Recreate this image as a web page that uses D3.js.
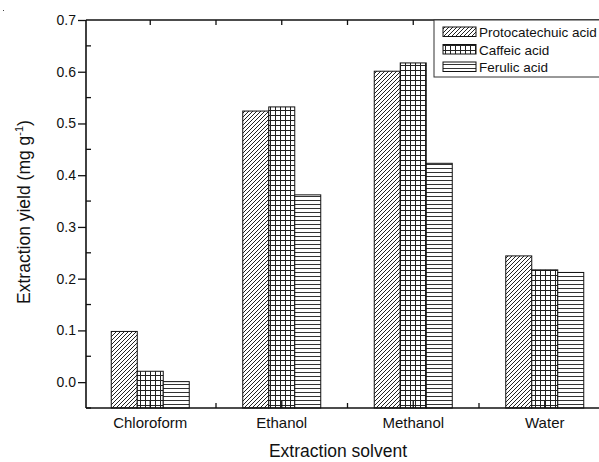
<!DOCTYPE html>
<html>
<head>
<meta charset="utf-8">
<script src="https://cdn.jsdelivr.net/npm/d3@7"></script>
<style>
  body { margin: 0; background: #fff; }
  text { font-family: "Liberation Sans", Arial, sans-serif; fill: #111; }
</style>
</head>
<body>
<svg width="599" height="462"></svg>
<script>
// data
const solvents = ["Chloroform", "Ethanol", "Methanol", "Water"];
const seriesNames = ["Protocatechuic acid", "Caffeic acid", "Ferulic acid"];
const protocatechuic = [0.098, 0.524, 0.601, 0.244];
const caffeic = [0.021, 0.532, 0.617, 0.217];
const ferulic = [0.001, 0.362, 0.423, 0.212];
const yTicks = [0.0, 0.1, 0.2, 0.3, 0.4, 0.5, 0.6, 0.7];
const yMinor = [-0.05, 0.05, 0.15, 0.25, 0.35, 0.45, 0.55, 0.65];

const seriesValues = [protocatechuic, caffeic, ferulic];
const patternIds = ["hatch", "grid", "hlines"];

let svg = d3.select("svg");
const plotLeft = 86, plotTop = 20, plotBottom = 408;

// patterns
const defs = svg.append("defs");
let p = defs.append("pattern").attr("id", "hatch").attr("patternUnits", "userSpaceOnUse")
  .attr("width", 4).attr("height", 4);
p.append("rect").attr("width", 4).attr("height", 4).attr("fill", "#fff");
p.append("path").attr("d", "M-1,1 l2,-2 M0,4 l4,-4 M3,5 l2,-2").attr("stroke", "#222").attr("stroke-width", 1);

p = defs.append("pattern").attr("id", "grid").attr("patternUnits", "userSpaceOnUse")
  .attr("width", 5).attr("height", 5);
p.append("rect").attr("width", 5).attr("height", 5).attr("fill", "#fff");
p.append("path").attr("d", "M0.5,0 V5 M0,0.5 H5").attr("stroke", "#222").attr("stroke-width", 1);

p = defs.append("pattern").attr("id", "hlines").attr("patternUnits", "userSpaceOnUse")
  .attr("width", 4).attr("height", 4);
p.append("rect").attr("width", 4).attr("height", 4).attr("fill", "#fff");
p.append("path").attr("d", "M0,0.5 H4").attr("stroke", "#333").attr("stroke-width", 1);

// scales
const x0 = d3.scaleBand().domain(solvents).range([84.5, 610.5]).padding(0);
const groupW = 78;
const x1 = d3.scaleBand().domain(seriesNames)
  .range([(x0.bandwidth() - groupW) / 2, (x0.bandwidth() + groupW) / 2]);
const y = d3.scaleLinear().domain([-0.05, 0.7]).range([plotBottom, plotTop]);

// bars (Origin draws them from the bottom of the axis)
const g = svg.append("g");
seriesNames.forEach((s, si) => {
  g.selectAll(".bar" + si)
    .data(solvents)
    .enter()
    .append("rect")
      .attr("x", d => x0(d) + x1(s))
      .attr("width", x1.bandwidth())
      .attr("y", (d, i) => y(seriesValues[si][i]))
      .attr("height", (d, i) => y(-0.05) - y(seriesValues[si][i]))
      .attr("fill", "url(#" + patternIds[si] + ")")
      .attr("stroke", "#111")
      .attr("stroke-width", 1);
});

// y axis
const yAxis = svg.append("g").attr("transform", `translate(${plotLeft},0)`)
  .call(d3.axisLeft(y).tickValues(yTicks).tickFormat(d3.format(".1f")).tickSize(8).tickPadding(2));
yAxis.select(".domain").remove();
yAxis.selectAll("line").attr("stroke", "#111").attr("stroke-width", 1.3);
yAxis.selectAll("text").style("font-size", "14px").style("font-family", "Liberation Sans, Arial, sans-serif");
svg.append("g").selectAll("line").data(yMinor).enter().append("line")
  .attr("x1", plotLeft).attr("x2", plotLeft + 5)
  .attr("y1", d => y(d)).attr("y2", d => y(d))
  .attr("stroke", "#111").attr("stroke-width", 1.3);

// frame lines
svg.append("line").attr("x1", plotLeft).attr("x2", plotLeft).attr("y1", plotTop).attr("y2", plotBottom)
  .attr("stroke", "#111").attr("stroke-width", 1.6);
svg.append("line").attr("x1", plotLeft).attr("x2", 599).attr("y1", plotBottom).attr("y2", plotBottom)
  .attr("stroke", "#111").attr("stroke-width", 1.6);
svg.append("line").attr("x1", plotLeft).attr("x2", 599).attr("y1", plotTop).attr("y2", plotTop)
  .attr("stroke", "#111").attr("stroke-width", 1.6);

// x ticks: majors at centres, minors at boundaries
const centres = solvents.map(d => x0(d) + x0.bandwidth() / 2);
const bounds = solvents.slice(1).map(d => x0(d));
const xt = svg.append("g");
xt.selectAll(".cb").data(centres).enter().append("line")
  .attr("x1", d => d).attr("x2", d => d).attr("y1", plotBottom).attr("y2", plotBottom - 7)
  .attr("stroke", "#111").attr("stroke-width", 1.3);
xt.selectAll(".mb").data(bounds).enter().append("line")
  .attr("x1", d => d).attr("x2", d => d).attr("y1", plotBottom).attr("y2", plotBottom - 5)
  .attr("stroke", "#111").attr("stroke-width", 1.3);
xt.selectAll(".ct").data(centres.concat(bounds)).enter().append("line")
  .attr("x1", d => d).attr("x2", d => d).attr("y1", plotTop).attr("y2", plotTop + 5)
  .attr("stroke", "#111").attr("stroke-width", 1.3);

// category labels
svg.append("g").selectAll("text").data(solvents).enter().append("text")
  .attr("x", d => x0(d) + x0.bandwidth() / 2)
  .attr("y", 428)
  .attr("text-anchor", "middle")
  .style("font-size", "15px")
  .text(d => d);

// axis titles
svg.append("text").attr("x", 338).attr("y", 457).attr("text-anchor", "middle")
  .style("font-size", "17.5px").text("Extraction solvent");
const yt = svg.append("text").attr("transform", "translate(30,212) rotate(-90)")
  .attr("text-anchor", "middle").style("font-size", "17.5px");
yt.append("tspan").text("Extraction yield (mg g");
yt.append("tspan").attr("dy", -7).style("font-size", "11px").text("-1");
yt.append("tspan").attr("dy", 7).text(")");

// legend
const lg = svg.append("g");
lg.append("rect").attr("x", 434).attr("y", plotTop).attr("width", 200).attr("height", 57)
  .attr("fill", "#fff").attr("stroke", "#333").attr("stroke-width", 1);
seriesNames.forEach((s, i) => {
  const ly = 27 + i * 17.5;
  lg.append("rect").attr("x", 443).attr("y", ly).attr("width", 33).attr("height", 9.5)
    .attr("fill", "url(#" + patternIds[i] + ")").attr("stroke", "#111").attr("stroke-width", 1);
  lg.append("text").attr("x", 479).attr("y", ly + 10).style("font-size", "13.5px").text(s);
});

// stray dot in the corner of the original
svg.append("rect").attr("x", 3).attr("y", 10).attr("width", 1).attr("height", 1).attr("fill", "#444");
</script>
</body>
</html>
